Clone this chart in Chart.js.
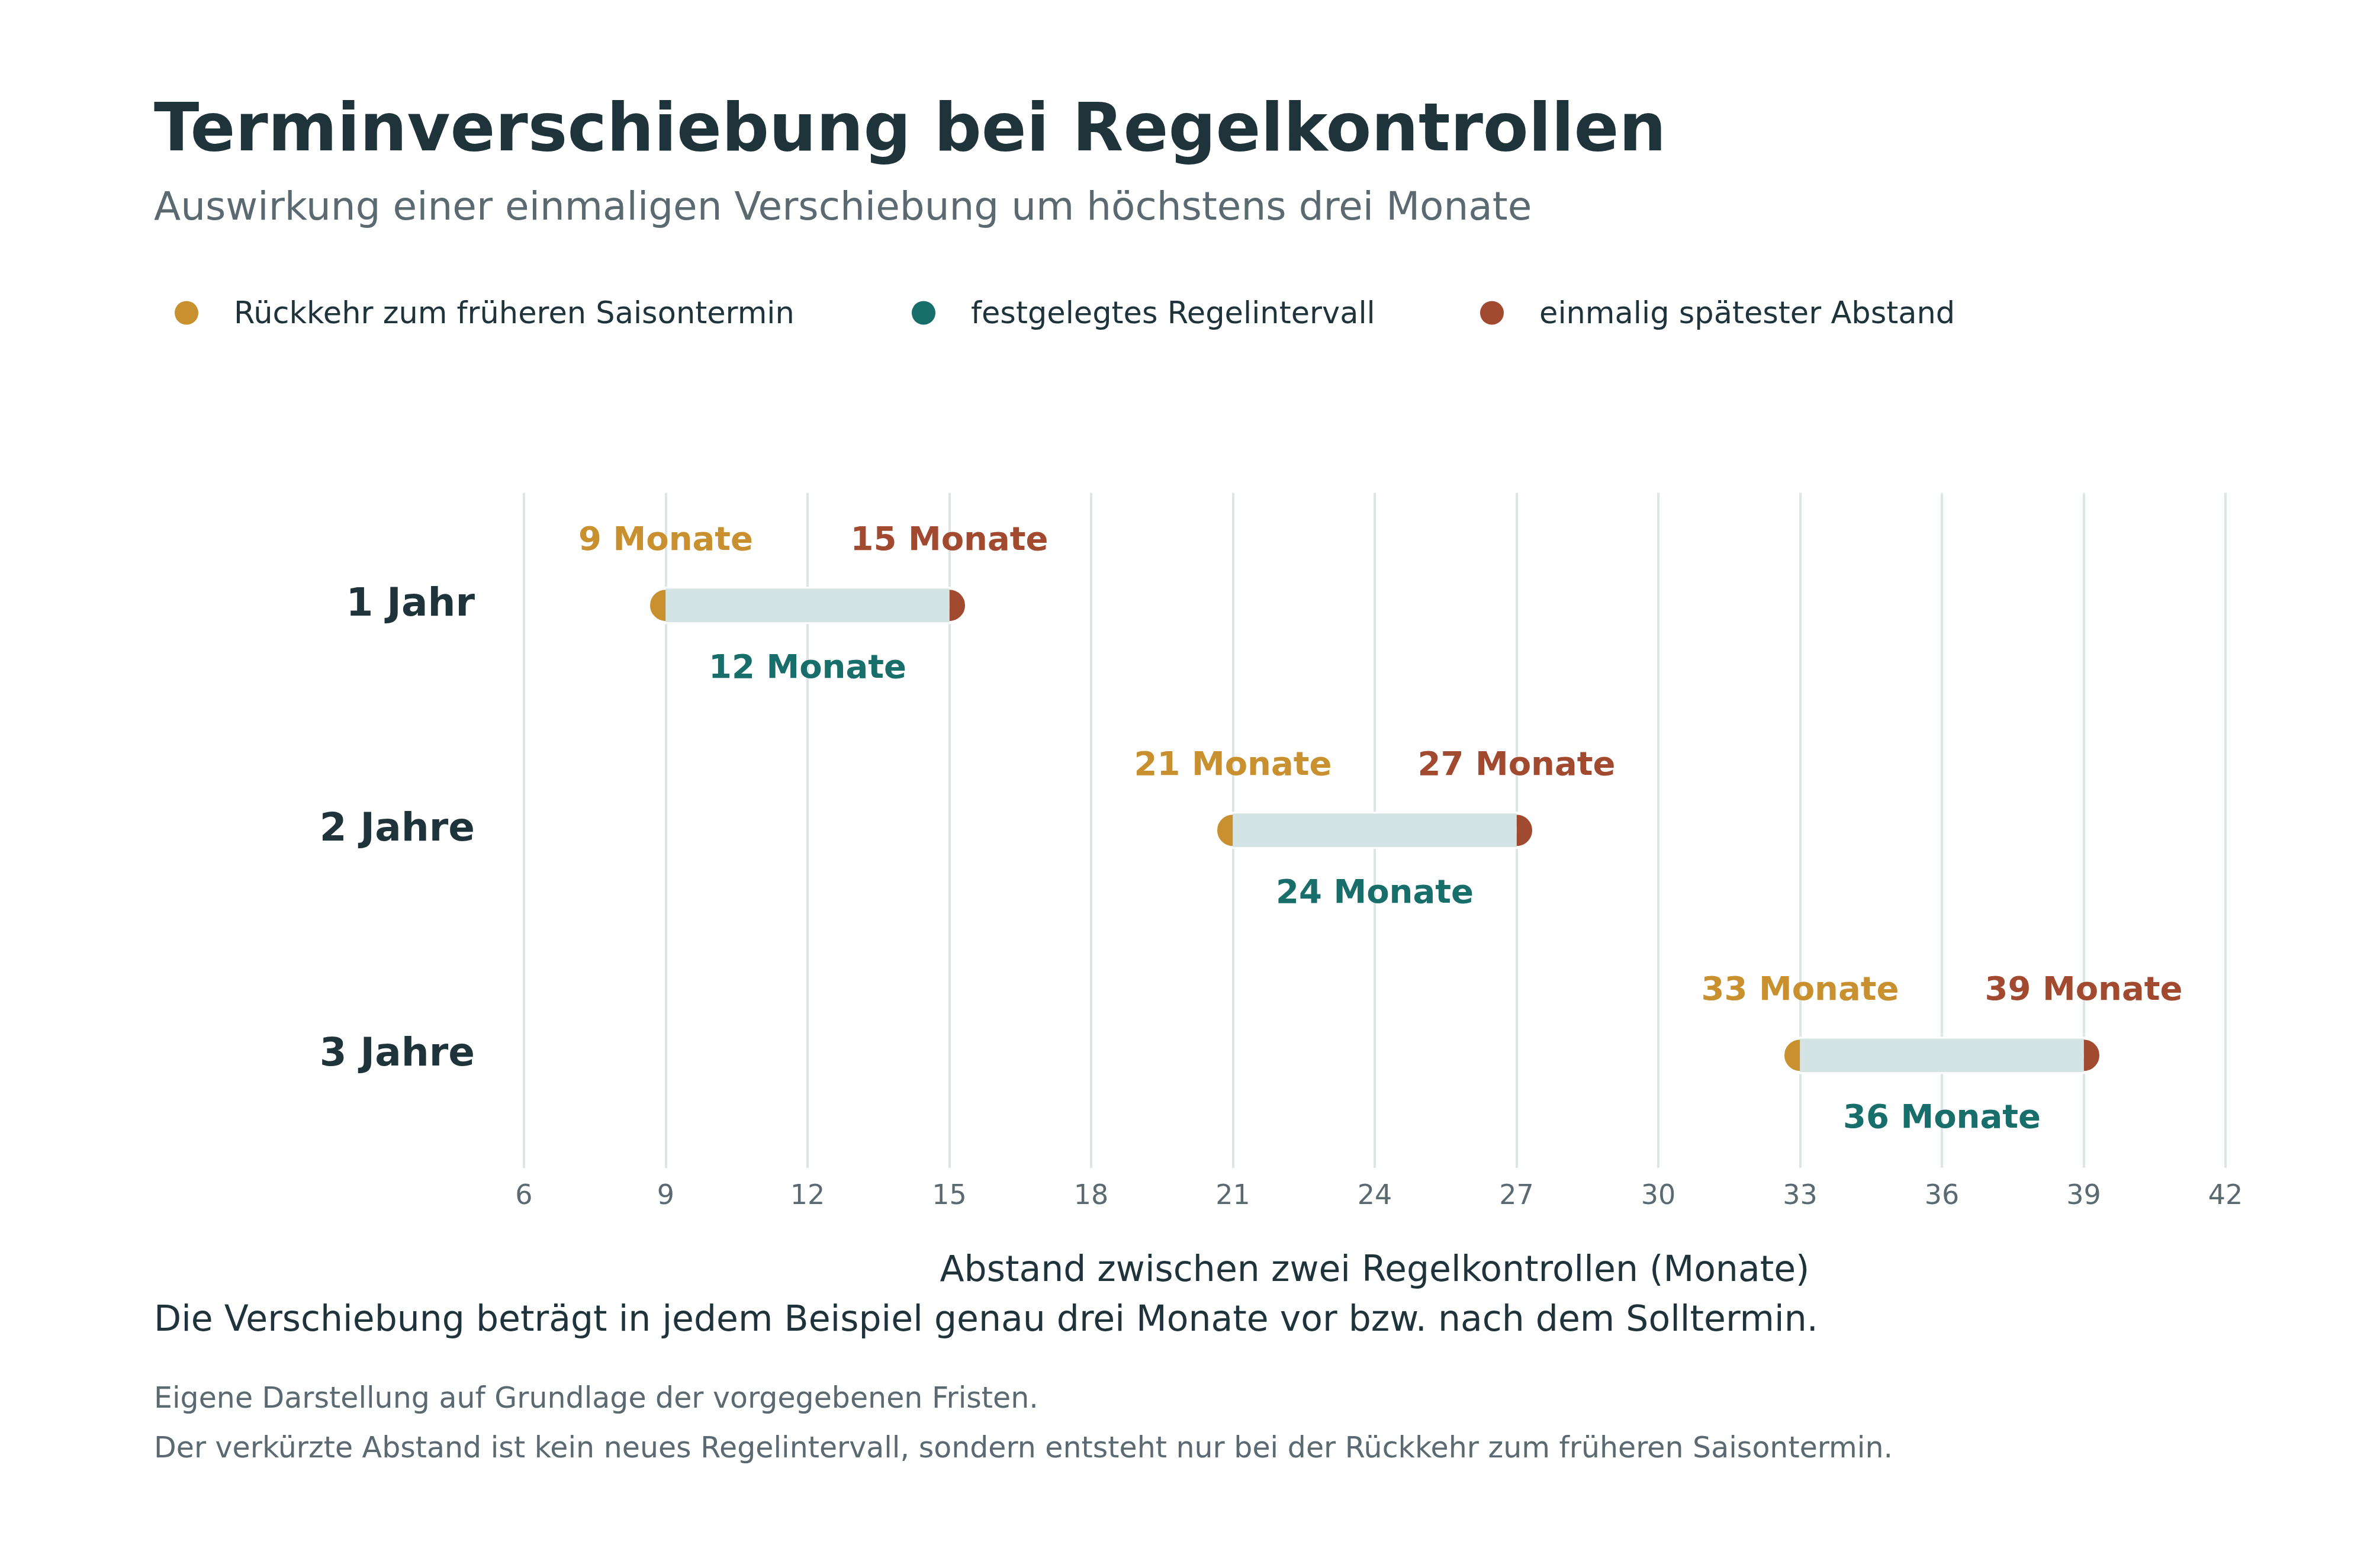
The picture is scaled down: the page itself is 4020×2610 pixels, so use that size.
<!DOCTYPE html>
<html><head><meta charset="utf-8">
<script src="https://cdn.jsdelivr.net/npm/chart.js@4.4.0/dist/chart.umd.min.js"></script>
<style>
html,body{margin:0;padding:0;background:#fff;width:4020px;height:2610px;overflow:hidden;font-family:"DejaVu Sans",sans-serif;}
.t{position:absolute;white-space:nowrap;}
#wrap{position:absolute;left:0;top:718px;width:4020px;height:1470px;}
.lg{position:absolute;top:528px;transform:translateY(-50%);font-size:51px;color:#1f333b;display:flex;align-items:center;}
.dot{width:40px;height:40px;border-radius:50%;display:inline-block;margin-right:60px;}
</style></head><body>
<div class="t" style="left:260px;top:150px;font-size:112px;font-weight:bold;color:#1f333b;">Terminverschiebung bei Regelkontrollen</div>
<div class="t" style="left:260px;top:310px;font-size:66px;color:#5a6a70;">Auswirkung einer einmaligen Verschiebung um höchstens drei Monate</div>
<div id="legend"></div>
<div id="wrap"><canvas id="c" width="4020" height="1470"></canvas></div>
<div class="t" style="left:260px;top:2192px;font-size:60px;color:#1f333b;">Die Verschiebung beträgt in jedem Beispiel genau drei Monate vor bzw. nach dem Solltermin.</div>
<div class="t" style="left:260px;top:2333px;font-size:49px;color:#5a6a70;">Eigene Darstellung auf Grundlage der vorgegebenen Fristen.</div>
<div class="t" style="left:260px;top:2417px;font-size:49px;color:#5a6a70;">Der verkürzte Abstand ist kein neues Regelintervall, sondern entsteht nur bei der Rückkehr zum früheren Saisontermin.</div>
<script>
const categories = ["1 Jahr", "2 Jahre", "3 Jahre"];
const earlyValues = [9, 21, 33];
const regularValues = [12, 24, 36];
const lateValues = [15, 27, 39];
const xTicks = [6, 9, 12, 15, 18, 21, 24, 27, 30, 33, 36, 39, 42];
const seriesNames = ["Rückkehr zum früheren Saisontermin", "festgelegtes Regelintervall", "einmalig spätester Abstand"];
const colors = ["#c8902f", "#176e6b", "#a24a30"];

// HTML legend
const lgX = [295, 1540, 2500];
const lg = document.getElementById('legend');
seriesNames.forEach((n, i) => {
  const d = document.createElement('div'); d.className = 'lg'; d.style.left = lgX[i] + 'px';
  d.innerHTML = '<span class="dot" style="background:' + colors[i] + '"></span>' + n;
  lg.appendChild(d);
});

const pts = arr => arr.map((v, i) => ({x: v, y: categories[i]}));
const labelPlugin = {
  id: 'lbl',
  afterDatasetsDraw(chart) {
    const ctx = chart.ctx;
    ctx.save();
    ctx.font = 'bold 56px "DejaVu Sans"';
    ctx.textAlign = 'center'; ctx.textBaseline = 'middle';
    [2, 3, 4].forEach((di, k) => {
      const meta = chart.getDatasetMeta(di);
      meta.data.forEach((p, i) => {
        const v = chart.data.datasets[di].data[i].x;
        ctx.fillStyle = colors[k];
        const dy = k === 1 ? 108 : -108;
        ctx.fillText(v + ' Monate', p.x, p.y + dy);
      });
    });
    ctx.restore();
  }
};
const pointDs = (label, arr, c) => ({
  type: 'scatter', label, data: pts(arr), backgroundColor: c, borderColor: '#ffffff',
  borderWidth: 5, pointRadius: 29, pointHoverRadius: 29
});
new Chart(document.getElementById('c'), {
  type: 'bar',
  data: {
    labels: categories,
    datasets: [
      {label: 'band', data: earlyValues.map((v, i) => [v, lateValues[i]]), backgroundColor: '#d4e3e4', barThickness: 56, borderWidth: 0},
      {label: 'line', data: earlyValues.map((v, i) => [v, lateValues[i]]), backgroundColor: '#8ea7a9', barThickness: 10, borderWidth: 0, grouped: false},
      pointDs(seriesNames[0], earlyValues, colors[0]),
      pointDs(seriesNames[1], regularValues, colors[1]),
      pointDs(seriesNames[2], lateValues, colors[2])
    ]
  },
  options: {
    indexAxis: 'y', responsive: false, animation: false,
    layout: {padding: {left: 200, right: 261, top: 51, bottom: 0}},
    datasets: {bar: {grouped: false}},
    plugins: {legend: {display: false}, tooltip: {enabled: false}},
    scales: {
      x: {
        type: 'linear', min: 6, max: 42,
        afterBuildTicks: s => { s.ticks = xTicks.map(v => ({value: v})); },
        grid: {color: '#dde6e7', lineWidth: 4, drawTicks: false},
        border: {display: false},
        ticks: {color: '#5a6a70', font: {size: 46, family: 'DejaVu Sans'}, padding: 22},
        title: {display: true, text: 'Abstand zwischen zwei Regelkontrollen (Monate)', color: '#1f333b', font: {size: 60, family: 'DejaVu Sans'}, padding: {top: 40}}
      },
      y: {
        type: 'category', labels: categories, offset: true,
        afterFit: s => { s.width = 685; },
        grid: {display: false}, border: {display: false},
        ticks: {color: '#1f333b', font: {size: 66, weight: 'bold', family: 'DejaVu Sans'}, padding: 75}
      }
    }
  },
  plugins: [labelPlugin]
});
</script>
</body></html>
